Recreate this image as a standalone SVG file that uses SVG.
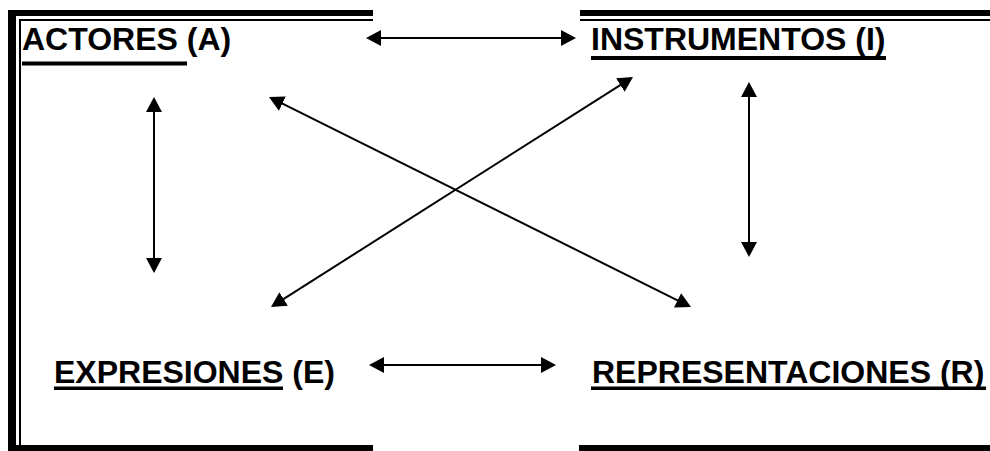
<svg xmlns="http://www.w3.org/2000/svg" width="990" height="451" viewBox="0 0 990 451">
  <style>
    .lbl { font-family: "Liberation Sans", Arial, sans-serif; font-weight: bold; font-size: 32px; fill: #000; }
    .ul { fill: #000; }
    .frame { fill: #000; }
    .conn { stroke: #000; stroke-width: 2; fill: none; marker-start: url(#ah); marker-end: url(#ah); }
  </style>
  <defs>
    <marker id="ah" markerUnits="userSpaceOnUse" markerWidth="16" markerHeight="17" refX="5" refY="8" orient="auto-start-reverse" viewBox="0 0 16 17">
      <path d="M0,0 L15,8 L0,16 z" fill="#000"/>
    </marker>
  </defs>
  <rect width="990" height="451" fill="#fff"/>

  <g id="frame">
    <rect class="frame" x="8" y="10" width="8" height="441"/>
    <rect class="frame" x="16" y="10" width="357" height="6"/>
    <rect class="frame" x="19" y="19" width="2" height="426"/>
    <rect class="frame" x="19" y="19" width="354" height="2"/>
    <rect class="frame" x="580" y="10" width="410" height="6"/>
    <rect class="frame" x="580" y="19" width="410" height="2"/>
    <rect class="frame" x="16" y="445" width="357" height="6"/>
    <rect class="frame" x="579" y="445" width="411" height="6"/>
  </g>

  <g id="connectors">
    <line class="conn" x1="376" y1="38" x2="566" y2="38"/>
    <line class="conn" x1="379" y1="365" x2="546" y2="365"/>
    <line class="conn" x1="154" y1="107" x2="154" y2="263"/>
    <line class="conn" x1="749" y1="92" x2="749" y2="247"/>
    <line class="conn" x1="277.95" y1="101.45" x2="682.05" y2="302.55"/>
    <line class="conn" x1="279.44" y1="301.64" x2="624.56" y2="82.36"/>
  </g>

  <g id="node-actores">
    <text class="lbl" x="22" y="50">ACTORES (A)</text>
    <rect class="ul" x="22" y="61.5" width="165" height="4"/>
  </g>
  <g id="node-instrumentos">
    <text class="lbl" x="591" y="50">INSTRUMENTOS (I)</text>
    <rect class="ul" x="591" y="56" width="295" height="4"/>
  </g>
  <g id="node-expresiones">
    <text class="lbl" x="54" y="383">EXPRESIONES (E)</text>
    <rect class="ul" x="54" y="386.5" width="229" height="3.5"/>
  </g>
  <g id="node-representaciones">
    <text class="lbl" x="592" y="383">REPRESENTACIONES (R)</text>
    <rect class="ul" x="591" y="386.5" width="395" height="3.5"/>
  </g>
</svg>
